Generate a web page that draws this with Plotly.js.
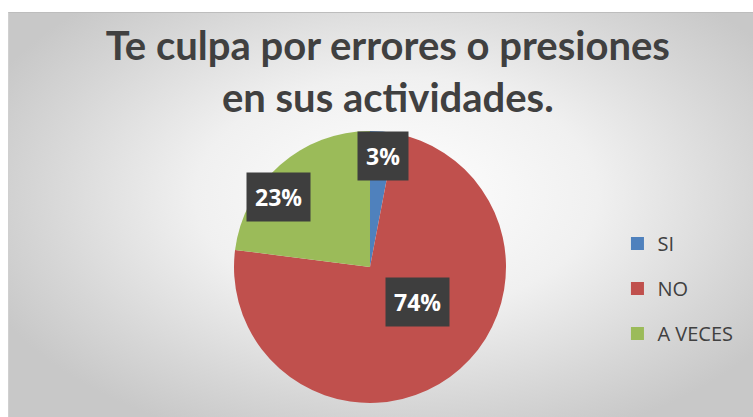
<!DOCTYPE html>
<html>
<head>
<meta charset="utf-8">
<script src="https://cdn.plot.ly/plotly-3.0.1.min.js"></script>
<style>
  html, body { margin:0; padding:0; background:#ffffff; }
  #bg { position:absolute; left:8px; top:12px; width:745px; height:405px;
        background: radial-gradient(ellipse 60% 65% at 52% 45%, #ffffff 0%, #f0f0f0 45%, #d6d6d6 80%, #c8c8c8 100%);
        border-top:1px solid #bdbdbd; border-left:1px solid #d0d0d0; }
  #chart { position:absolute; left:0; top:0; width:753px; height:417px; }
</style>
</head>
<body>
<div id="bg"></div>
<div id="chart"></div>
<script>
const titleLines = ["Te culpa por errores o presiones", "en sus actividades."];
const categories = ["SI", "NO", "A VECES"];
const values = [3, 74, 23];
const colors = ["#4f81bd", "#c0504d", "#9bbb59"];

const W = 753, H = 417;
const cx = 370, cy = 267, R = 136;

const traces = [{
  type: "pie",
  labels: categories,
  values: values,
  sort: false,
  direction: "clockwise",
  rotation: 0,
  marker: { colors: colors, line: { width: 0 } },
  textinfo: "none",
  hoverinfo: "label+percent",
  showlegend: false,
  domain: { x: [(cx - R) / W, (cx + R) / W], y: [(H - cy - R) / H, (H - cy + R) / H] }
}];

categories.forEach((c, i) => {
  traces.push({
    type: "scatter", mode: "markers", x: [null], y: [null],
    name: c, legendgroup: "g" + i,
    marker: { symbol: "square", size: 13, color: colors[i] },
    showlegend: true, hoverinfo: "skip"
  });
});

// label boxes (pixel positions of the labels): SI, NO, A VECES
const labelPos = [[383, 156], [418, 302], [278, 197]];
const total = values.reduce((a, b) => a + b, 0);
const annotations = values.map((v, i) => ({
  xref: "paper", yref: "paper",
  x: labelPos[i][0] / W, y: 1 - labelPos[i][1] / H,
  xanchor: "center", yanchor: "middle",
  text: Math.round(v / total * 100) + "%",
  showarrow: false,
  font: { family: "Open Sans, sans-serif", size: 23, color: "#ffffff", weight: "bold" },
  bgcolor: "#3e3e3e",
  borderpad: 8
}));

const layout = {
  width: W, height: H,
  margin: { l: 0, r: 0, t: 0, b: 0 },
  paper_bgcolor: "rgba(0,0,0,0)",
  plot_bgcolor: "rgba(0,0,0,0)",
  title: {
    text: "<b>" + titleLines.join("<br>") + "</b>",
    font: { family: "Lato, Open Sans, sans-serif", size: 40, color: "#404040" },
    x: 0.515, xanchor: "center",
    y: 1 - 60 / H, yanchor: "middle"
  },
  xaxis: { visible: false, range: [0, 1] },
  yaxis: { visible: false, range: [0, 1] },
  showlegend: true,
  legend: {
    x: 0.82, xanchor: "left", y: 1 - 224 / H, yanchor: "top",
    font: { family: "Open Sans, sans-serif", size: 20, color: "#404040" },
    tracegroupgap: 16, bgcolor: "rgba(0,0,0,0)"
  },
  annotations: annotations
};

Plotly.newPlot("chart", traces, layout, { displayModeBar: false, staticPlot: true });
</script>
</body>
</html>
